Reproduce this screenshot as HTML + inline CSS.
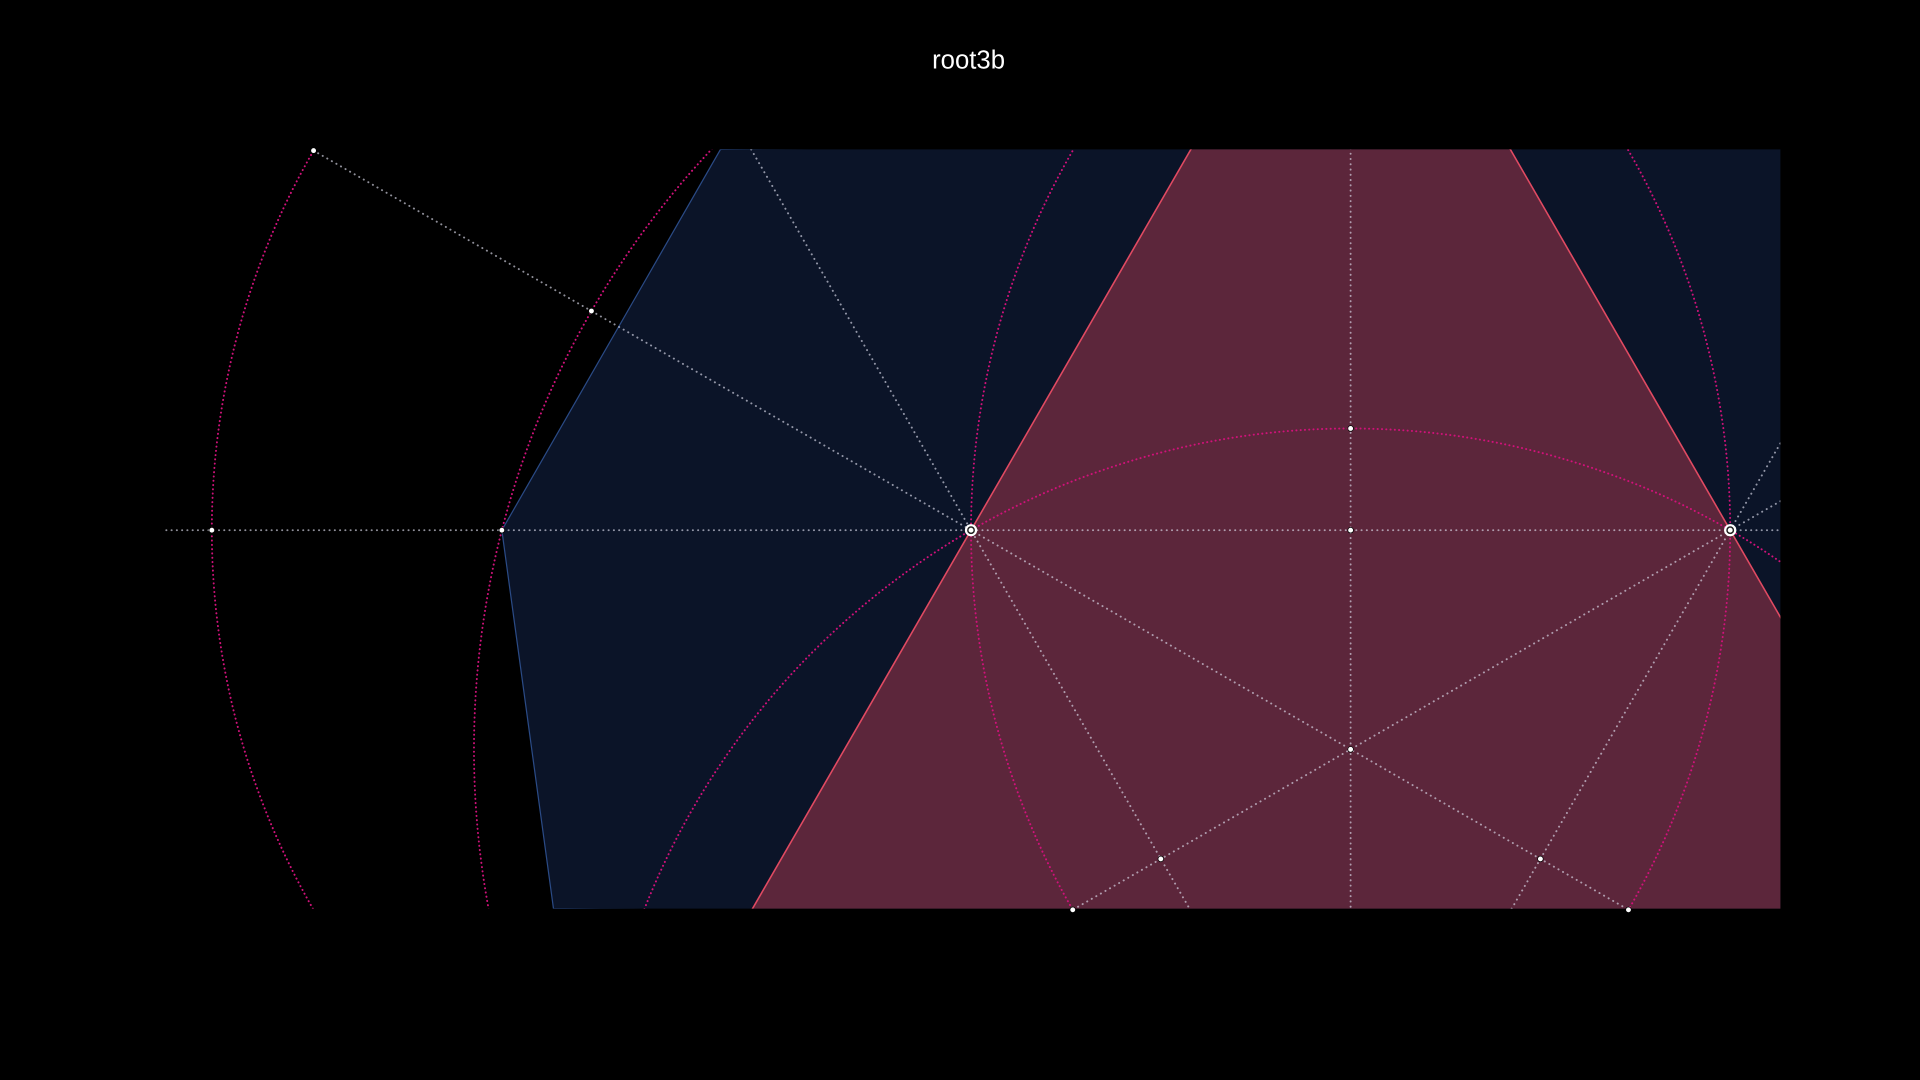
<!DOCTYPE html>
<html><head><meta charset="utf-8"><style>
html,body{margin:0;padding:0;background:#000;width:1920px;height:1080px;overflow:hidden}
svg{display:block;overflow:hidden}
</style></head><body>
<svg id="chart" width="1920" height="1080" viewBox="0 0 1568 882" xmlns="http://www.w3.org/2000/svg">
<defs><clipPath id="plotclip"><rect x="135" y="122" width="1319" height="620"/></clipPath></defs>
<text x="791" y="56" fill="#fff" font-family="Liberation Sans, sans-serif" font-size="21" text-anchor="middle">root3b</text>
<g id="plot" clip-path="url(#plotclip)"></g>
<g id="pts"></g>
</svg>
<script>
const bluePoly = [[-0.618,0],[-0.33,0.5016],[1.3,0.52],[1.3,-0.52],[-0.55,-0.4984]];
const pinkPoly = [[0.5,0.866],[-0.2887,-0.5],[1.2887,-0.5]];
const circleCenters = [[0,0],[1,0],[0.5,-0.866],[0.5,-0.2887]];
const circleRadii = [1,1,1,1.1547];
const lineSegs = [[[-1.06,0],[1.2,0]],[[0.5,0.6],[0.5,-0.6]],
 [[-0.866,0.5],[1.2,-0.6928]],[[1,0],[0.05,-0.5485]],
 [[-0.3,0.5196],[0.3,-0.5196]],[[1,0],[0.7,-0.5196]],
 [[1,0],[1.2,0.3464]],[[1,0],[1.2,0.1155]]];
const points = [[-0.866,0.5],[-0.5,0.2887],[-1,0],[-0.618,0],[0.5,0],[0.5,0.134],[0.5,-0.2887],[0.25,-0.433],[0.75,-0.433],[0.134,-0.5],[0.866,-0.5]];
const ringPoints = [[0,0],[1,0]];
const sx = u => 793 + 620*u, sy = v => 433 - 620*v;
const NS='http://www.w3.org/2000/svg';
const plot=document.getElementById('plot'), pl=document.getElementById('pts');
function mk(t,a,p){const e=document.createElementNS(NS,t);for(const k in a)e.setAttribute(k,a[k]);p.appendChild(e);return e;}
const poly=p=>p.map(q=>sx(q[0])+','+sy(q[1])).join(' ');
let e=mk('polygon',{points:poly(bluePoly),fill:'#0b1428',stroke:'#2a4a85','stroke-width':1},plot);


e=mk('polygon',{points:poly(pinkPoly),fill:'#5c263b',stroke:'#e04a62','stroke-width':1.3},plot);


lineSegs.forEach(s=>{
 const l=mk('line',{x1:sx(s[0][0]),y1:sy(s[0][1]),x2:sx(s[1][0]),y2:sy(s[1][1]),stroke:'rgba(220,220,235,0.65)','stroke-width':1.6,'stroke-dasharray':'0.1 4.2','stroke-linecap':'round'},plot);
 
 
});
circleCenters.forEach((c,i)=>{
 const ci=mk('circle',{cx:sx(c[0]),cy:sy(c[1]),r:620*circleRadii[i],fill:'none',stroke:'#d0127a','stroke-width':1.6,'stroke-dasharray':'0.1 3.4','stroke-linecap':'round'},plot);
 
 
});
points.forEach(p=>{
 const d=mk('circle',{cx:sx(p[0]),cy:sy(p[1]),r:2.3,fill:'#fff',stroke:'#000','stroke-width':0.6},pl);
 
 
});
ringPoints.forEach(p=>{
 const d=mk('circle',{cx:sx(p[0]),cy:sy(p[1]),r:5,fill:'#fff'},pl);
 
 
 const d2=mk('circle',{cx:sx(p[0]),cy:sy(p[1]),r:2.6,fill:'none',stroke:'#222','stroke-width':1.2},pl);
 
 
});
</script>
</body></html>
